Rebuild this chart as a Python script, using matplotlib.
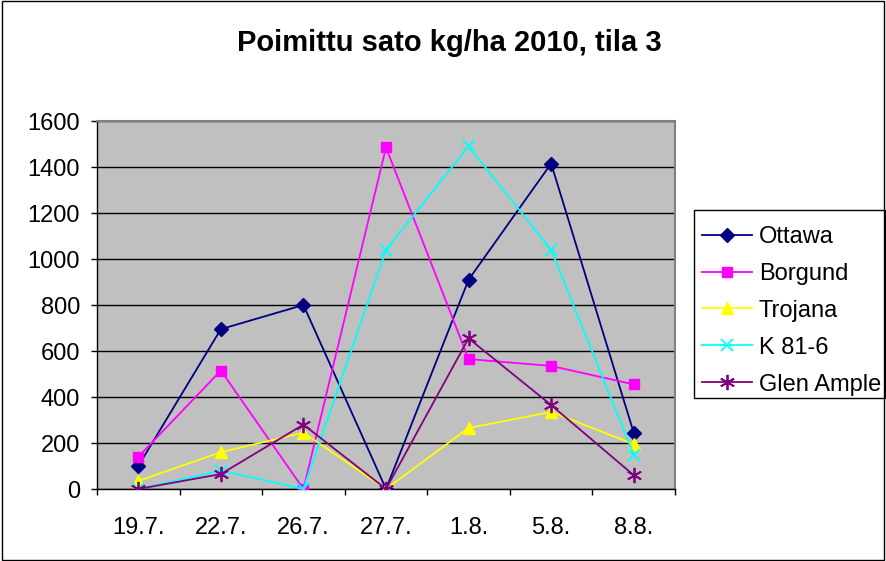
import matplotlib
matplotlib.use("Agg")
import matplotlib.pyplot as plt
import numpy as np

plt.rcParams['font.family'] = ['Liberation Sans', 'DejaVu Sans']

dates = ["19.7.", "22.7.", "26.7.", "27.7.", "1.8.", "5.8.", "8.8."]
ottawa = [100, 695, 800, 0, 910, 1415, 245]
borgund = [140, 515, 0, 1485, 565, 535, 455]
trojana = [35, 160, 245, 0, 265, 335, 195]
k816 = [0, 80, 0, 1040, 1490, 1040, 150]
glen = [0, 65, 280, 0, 655, 365, 60]

series = [
    ("Ottawa", ottawa, "#000080", "D", 7),
    ("Borgund", borgund, "#FF00FF", "s", 7),
    ("Trojana", trojana, "#FFFF00", "^", 8),
    ("K 81-6", k816, "#00FFFF", "x", 9),
    ("Glen Ample", glen, "#800080", (6, 2, 0), 11),
]

fig = plt.figure(figsize=(8.86, 5.61), dpi=100)
ax = fig.add_axes([97/886, 1-489/561, (675-97)/886, (489-121)/561])
ax.set_facecolor("#C0C0C0")

x = np.arange(len(dates))
handles = []
for name, vals, col, mk, ms in series:
    if mk in ("x",) or isinstance(mk, tuple):
        h, = ax.plot(x, vals, color=col, lw=1.3, marker=mk, ms=ms, mec=col, mew=1.3, label=name, zorder=3)
    else:
        h, = ax.plot(x, vals, color=col, lw=1.3, marker=mk, ms=ms, mec=col, mfc=col, label=name, zorder=3)
    handles.append(h)

ax.set_xlim(-0.5, len(dates) - 0.5)
ax.set_ylim(0, 1600)
ax.set_yticks(np.arange(0, 1601, 200))
ax.yaxis.grid(True, color="black", lw=1)
ax.set_axisbelow(True)
ax.set_xticks(x)
ax.set_xticklabels(dates)
ax.set_xticks(np.arange(-0.5, len(dates), 1), minor=True)
ax.tick_params(axis='x', which='major', length=0, labelsize=17, pad=20)
ax.tick_params(axis='x', which='minor', length=4, width=1, direction='out')
ax.tick_params(axis='y', length=4.3, width=1, direction='out', labelsize=17, pad=8)
for s in ("left", "bottom"):
    ax.spines[s].set_color("black")
    ax.spines[s].set_linewidth(1)
for s in ("top", "right"):
    ax.spines[s].set_color("#808080")
    ax.spines[s].set_linewidth(1.5)

fig.text(449/886, 1-43/561, "Poimittu sato kg/ha 2010, tila 3", ha="center", va="center",
         fontsize=21, fontweight="bold")

leg = fig.legend(handles=handles, loc="upper left", bbox_to_anchor=(702/886, 1-226/561),
                 frameon=False, fontsize=17,
                 handlelength=2.1, borderpad=0, labelspacing=0.63, handletextpad=0.3,
                 borderaxespad=0)

# legend frame
fig.patches.append(plt.Rectangle((694/886, 1-398/561), (885-694)/886, (398-210)/561,
                                 transform=fig.transFigure, fill=False, edgecolor="black", lw=1))

# figure border
fig.patches.append(plt.Rectangle((0.002, 0.002), 0.996, 0.996, transform=fig.transFigure,
                                 fill=False, edgecolor="black", lw=1))

fig.savefig("out.png", dpi=100)
